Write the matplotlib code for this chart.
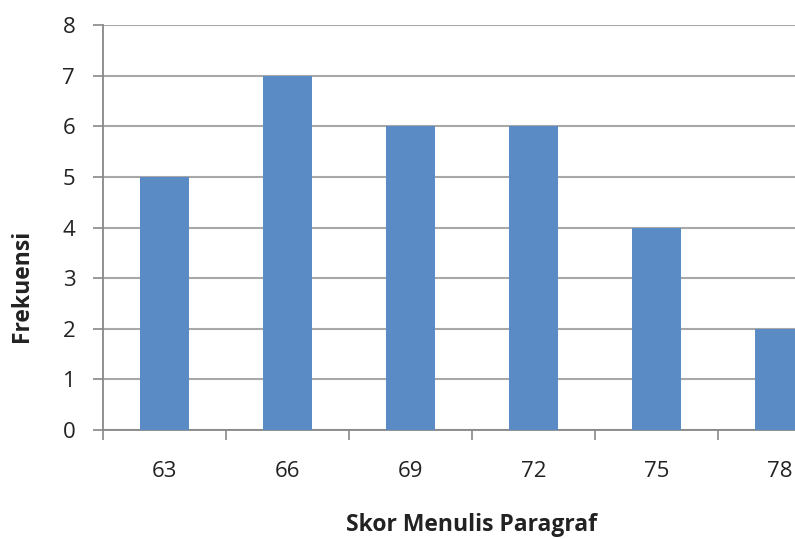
import matplotlib.pyplot as plt
import numpy as np

plt.rcParams['font.family'] = ['Open Sans', 'DejaVu Sans']

# frekuensi skor menulis paragraf
skor = ['63', '66', '69', '72', '75', '78']
frekuensi = [5, 7, 6, 6, 4, 2]

fig = plt.figure(figsize=(7.95, 5.39), dpi=100)
ax = fig.add_axes([103 / 795, 109 / 539, 738 / 795, 405 / 539])

x = np.arange(len(skor))
ax.bar(x, frekuensi, width=0.4, color='#5B8BC5', zorder=3)

ax.set_xlim(-0.5, len(skor) - 0.5)
ax.set_ylim(0, 8)
ax.set_yticks(range(0, 9))
ax.yaxis.grid(True, color='#A8A8A8', linewidth=1.5, zorder=0)

# label kategori di tengah, garis tick di batas kategori
ax.set_xticks(x)
ax.set_xticklabels(skor)
ax.set_xticks(np.arange(-0.5, len(skor), 1), minor=True)
ax.tick_params(axis='x', which='major', length=0, pad=22, labelsize=16, labelcolor='#222222')
ax.tick_params(axis='x', which='minor', length=7, width=1.2, color='#888888')
ax.tick_params(axis='y', length=7, width=1.2, color='#888888', pad=13, labelsize=16, labelcolor='#222222')

for side in ['top', 'right']:
    ax.spines[side].set_visible(False)
for side in ['left', 'bottom']:
    ax.spines[side].set_color('#888888')
    ax.spines[side].set_linewidth(1.3)

fig.text(472 / 795, 1 - 525 / 539, 'Skor Menulis Paragraf', ha='center', va='center',
         fontsize=16.5, fontweight='bold', color='#222222')
fig.text(22 / 795, 1 - 286 / 539, 'Frekuensi', ha='center', va='center', rotation=90,
         fontsize=16.5, fontweight='bold', color='#222222')

fig.savefig('out.png', dpi=100)
